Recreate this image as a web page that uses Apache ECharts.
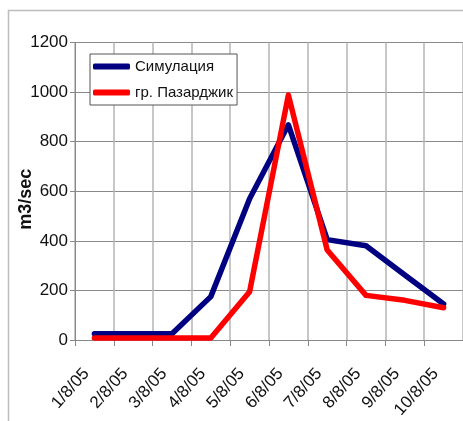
<!DOCTYPE html>
<html>
<head>
<meta charset="utf-8">
<script src="https://cdn.jsdelivr.net/npm/echarts@6/dist/echarts.min.js"></script>
<style>
  html, body { margin: 0; padding: 0; background: #fff; }
  #chart { width: 463px; height: 421px; }
</style>
</head>
<body>
<div id="chart"></div>
<script>
// Daily discharge, August 2005
const days = ['1/8/05', '2/8/05', '3/8/05', '4/8/05', '5/8/05', '6/8/05', '7/8/05', '8/8/05', '9/8/05', '10/8/05'];
const simulated = [25, 25, 25, 175, 570, 868, 405, 380, 262, 145];
const observed = [8, 8, 8, 8, 195, 988, 363, 180, 160, 130];
const seriesNames = ['Симулация', 'гр. Пазарджик'];
const yTicks = { min: 0, max: 1200, step: 200 };

const font = 'Liberation Sans, Arial, sans-serif';
const chart = echarts.init(document.getElementById('chart'), null, { renderer: 'canvas' });

chart.setOption({
  animation: false,
  backgroundColor: '#fff',
  graphic: [{
    type: 'rect',
    z: -10,
    shape: { x: 8.5, y: 10.5, width: 520, height: 480 },
    style: { fill: 'none', stroke: '#bdbdbd', lineWidth: 1.5 }
  }],
  grid: { left: 75, top: 42.5, right: 0, bottom: 80, containLabel: false },
  legend: {
    orient: 'vertical',
    left: 90,
    top: 54,
    backgroundColor: '#fff',
    borderColor: '#555',
    borderWidth: 1,
    padding: [5, 4, 5, 3],
    itemGap: 11,
    itemWidth: 37,
    itemHeight: 6,
    icon: 'roundRect',
    textStyle: { fontFamily: font, fontSize: 15, color: '#111' },
    data: seriesNames
  },
  xAxis: {
    type: 'category',
    data: days,
    boundaryGap: true,
    axisLine: { lineStyle: { color: '#888', width: 1 } },
    axisTick: { show: true, length: 6, lineStyle: { color: '#888' } },
    axisLabel: { rotate: 48, margin: 22, padding: [0, 12, 0, 0], fontFamily: font, fontSize: 17, color: '#111', interval: 0 },
    splitLine: { show: true, lineStyle: { color: '#b5b5b5', width: 1.5 } }
  },
  yAxis: {
    type: 'value',
    min: yTicks.min,
    max: yTicks.max,
    interval: yTicks.step,
    name: 'm3/sec',
    nameLocation: 'middle',
    nameRotate: 90,
    nameGap: 40,
    nameMoveOverlap: false,
    nameTextStyle: { fontFamily: font, fontSize: 18, fontWeight: 'bold', color: '#111', padding: [0, 16, 0, 0] },
    axisLine: { show: true, lineStyle: { color: '#888' } },
    axisTick: { show: true, length: 5, lineStyle: { color: '#888' } },
    axisLabel: { margin: 7, fontFamily: font, fontSize: 17, color: '#111', formatter: (v) => String(v) },
    splitLine: { show: true, lineStyle: { color: '#8a8a8a', width: 1 } }
  },
  series: [
    {
      name: seriesNames[0],
      type: 'line',
      data: simulated,
      showSymbol: false,
      symbol: 'none',
      color: '#000080',
      lineStyle: { color: '#000080', width: 5.5, cap: 'round', join: 'round' }
    },
    {
      name: seriesNames[1],
      type: 'line',
      data: observed,
      showSymbol: false,
      symbol: 'none',
      color: '#ff0000',
      lineStyle: { color: '#ff0000', width: 5.5, cap: 'round', join: 'round' }
    }
  ]
});
</script>
</body>
</html>
